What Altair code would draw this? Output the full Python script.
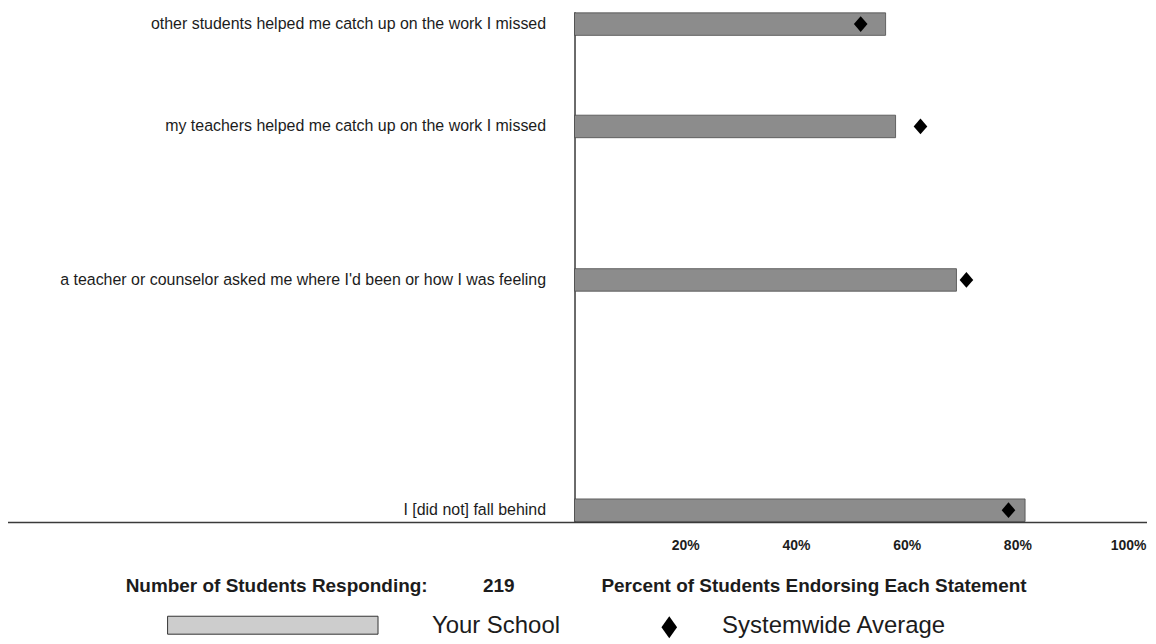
import altair as alt
import pandas as pd

# ---- data ----
categories = [
    "other students helped me catch up on the work I missed",
    "my teachers helped me catch up on the work I missed",
    "a teacher or counselor asked me where I'd been or how I was feeling",
    "I [did not] fall behind",
]
your_school = [56.2, 58.0, 69.0, 81.4]
systemwide = [51.7, 62.5, 70.8, 78.4]
tick_values = [20, 40, 60, 80, 100]
n_students = "219"

# empty slots between statements (the reference spaces the rows unevenly)
gap_slots = [3, 5, 8]

domain = []
for i, c in enumerate(categories):
    domain.append(c)
    if i < len(gap_slots):
        for k in range(gap_slots[i]):
            domain.append(" " * (len(domain) + 1))

df = pd.DataFrame({"cat": categories, "school": your_school, "system": systemwide})

W, H = 555, 512
FONT = "Liberation Sans"
INK = "#1c1c1c"

yscale = alt.Scale(domain=domain, paddingInner=0.12, paddingOuter=0.04)
xscale = alt.Scale(domain=[0, 100], nice=False)

diamond = "M0,-1.1L0.95,0L0,1.1L-0.95,0Z"
diamond_tall = "M0,-1.2L0.85,0L0,1.2L-0.85,0Z"

bars = alt.Chart(df).mark_bar(fill="#8c8c8c", stroke="#4a4a4a", strokeWidth=0.8).encode(
    x=alt.X("school:Q", scale=xscale,
            axis=alt.Axis(values=tick_values, labelExpr="datum.value + '%'", title=None,
                          domain=False, ticks=False, grid=False, labelFlush=False,
                          labelPadding=16, labelFont=FONT, labelFontSize=14,
                          labelFontWeight="bold", labelColor=INK)),
    y=alt.Y("cat:N", scale=yscale, sort=None,
            axis=alt.Axis(title=None, ticks=False, grid=False, domain=True,
                          domainColor="#3a3a3a", domainWidth=1.5, labelPadding=29,
                          labelLimit=700, labelFont=FONT, labelFontSize=16,
                          labelColor=INK)),
)

points = alt.Chart(df).mark_point(shape=diamond, filled=True, size=207, color="#000000", opacity=1).encode(
    x=alt.X("system:Q", scale=xscale),
    y=alt.Y("cat:N", scale=yscale, sort=None),
)

one = pd.DataFrame({"k": [0]})

baseline = alt.Chart(one).mark_rule(color="#3a3a3a", strokeWidth=1.5).encode(
    x=alt.value(-576), x2=alt.value(W + 19), y=alt.value(H)
)

def label(text, x, y, size, weight="normal", align="left"):
    return alt.Chart(pd.DataFrame({"t": [text]})).mark_text(
        align=align, baseline="middle", font=FONT, fontSize=size,
        fontWeight=weight, color=INK
    ).encode(x=alt.value(x), y=alt.value(y), text="t:N")

t1 = label("Number of Students Responding:", -450, 576, 19, "bold")
t2 = label(n_students, -76, 576, 19, "bold", "center")
t3 = label("Percent of Students Endorsing Each Statement", 27, 576, 19, "bold")

swatch = alt.Chart(one).mark_rect(fill="#cdcdcd", stroke="#333333", strokeWidth=1).encode(
    x=alt.value(-408), x2=alt.value(-197), y=alt.value(606), y2=alt.value(624)
)
t4 = label("Your School", -143, 616, 24)
leg_d = alt.Chart(one).mark_point(shape=diamond_tall, filled=True, size=340, color="#000000", opacity=1).encode(
    x=alt.value(95), y=alt.value(617)
)
t5 = label("Systemwide Average", 148, 616, 24)

chart = alt.layer(bars, points, baseline, t1, t2, t3, swatch, t4, leg_d, t5).properties(
    width=W, height=H,
    autosize=alt.AutoSizeParams(type="none"),
    padding={"left": 568, "top": 3, "right": 20, "bottom": 120},
    background="white",
).configure_view(stroke=None)

chart.save("out.html", embed_options={"renderer": "svg", "actions": False})
